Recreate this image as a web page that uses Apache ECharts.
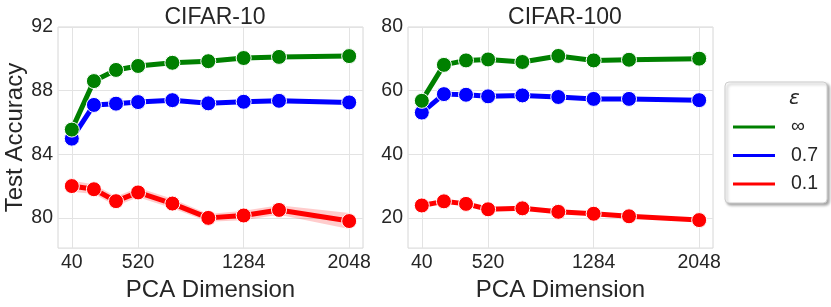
<!DOCTYPE html>
<html><head><meta charset="utf-8">
<script src="https://cdn.jsdelivr.net/npm/echarts@6/dist/echarts.min.js"></script>
<style>html,body{margin:0;padding:0;background:#fff}#c{width:831px;height:307px}</style>
</head><body><div id="c"></div>
<script>
const dims = [40, 200, 360, 520, 768, 1028, 1284, 1540, 2048];
const xTicks = [40, 520, 1284, 2048];
const yTicks10 = [80, 84, 88, 92];
const yTicks100 = [20, 40, 60, 80];
const seriesNames = ['∞', '0.7', '0.1'];
const colors = ['#008000', '#0000ff', '#ff0000'];
const bandColors = ['rgba(0,128,0,0.2)', 'rgba(0,0,255,0.2)', 'rgba(255,0,0,0.2)'];
// CIFAR-10
const c10_inf = [85.55, 88.6, 89.3, 89.55, 89.75, 89.85, 90.05, 90.12, 90.17];
const c10_07  = [84.98, 87.1, 87.18, 87.28, 87.4, 87.2, 87.3, 87.36, 87.26];
const c10_01  = [82.0, 81.8, 81.05, 81.6, 80.9, 80.0, 80.15, 80.5, 79.8];
const c10_inf_err = [0.05, 0.05, 0.05, 0.05, 0.05, 0.05, 0.05, 0.05, 0.05];
const c10_07_err  = [0.08, 0.08, 0.08, 0.08, 0.1, 0.08, 0.1, 0.15, 0.12];
const c10_01_err  = [0.35, 0.3, 0.3, 0.3, 0.3, 0.25, 0.3, 0.3, 0.5];
// CIFAR-100
const c100_inf = [56.8, 68.1, 69.5, 69.8, 69.0, 70.9, 69.5, 69.7, 70.05];
const c100_07  = [53.1, 58.9, 58.7, 58.2, 58.5, 58.0, 57.4, 57.4, 57.0];
const c100_01  = [23.9, 25.2, 24.4, 22.7, 23.0, 21.9, 21.3, 20.5, 19.3];
const c100_inf_err = [0.2, 0.2, 0.2, 0.2, 0.2, 0.2, 0.2, 0.2, 0.2];
const c100_07_err  = [0.3, 0.3, 0.3, 0.3, 0.3, 0.3, 0.3, 0.3, 0.3];
const c100_01_err  = [0.5, 0.5, 0.5, 0.5, 0.5, 0.5, 0.5, 0.5, 0.5];

const FONT = 'Liberation Sans';
const TXT = '#262626';

function xAxis(gi) {
  return {
    type: 'value', gridIndex: gi, min: -60, max: 2148,
    name: 'PCA Dimension', nameLocation: 'middle', nameGap: 27,
    nameTextStyle: {fontFamily: FONT, fontSize: 24, color: TXT},
    axisLine: {show: false}, axisTick: {show: false, customValues: xTicks},
    axisLabel: {customValues: xTicks, formatter: v => String(v), fontFamily: FONT, fontSize: 19.5, color: TXT, margin: 5},
    splitLine: {show: true, lineStyle: {color: '#e3e3e3', width: 1}}
  };
}
function yAxis(gi, min, max, ticks, name) {
  return {
    type: 'value', gridIndex: gi, min: min, max: max,
    name: name, nameLocation: 'middle', nameGap: 31,
    nameTextStyle: {fontFamily: FONT, fontSize: 24, color: TXT},
    axisLine: {show: false}, axisTick: {show: false, customValues: ticks},
    axisLabel: {customValues: ticks, formatter: v => String(v), fontFamily: FONT, fontSize: 19.5, color: TXT, margin: 5},
    splitLine: {show: true, lineStyle: {color: '#e3e3e3', width: 1}}
  };
}
function band(gi, vals, err, k) {
  const data = dims.map((d, i) => [d, vals[i] - err[i], vals[i] + err[i]]);
  return {
    type: 'custom', xAxisIndex: gi, yAxisIndex: gi, silent: true, z: 1, clip: true,
    encode: {x: 0, y: [1, 2]},
    data: data,
    renderItem: function (params, api) {
      if (params.dataIndex !== 0) return null;
      const up = data.map(p => api.coord([p[0], p[2]]));
      const lo = data.map(p => api.coord([p[0], p[1]])).reverse();
      return {type: 'polygon', shape: {points: up.concat(lo)}, style: {fill: bandColors[k]}};
    }
  };
}
function main(gi, vals, k) {
  return {type: 'line', name: seriesNames[k], xAxisIndex: gi, yAxisIndex: gi,
    data: dims.map((d, i) => [d, vals[i]]), symbol: 'circle', symbolSize: 15,
    itemStyle: {color: colors[k], borderColor: '#fff', borderWidth: 1},
    lineStyle: {color: colors[k], width: 5}, z: 3};
}
const s = [];
[[0, c10_inf, c10_inf_err, 0], [0, c10_07, c10_07_err, 1], [0, c10_01, c10_01_err, 2],
 [1, c100_inf, c100_inf_err, 0], [1, c100_07, c100_07_err, 1], [1, c100_01, c100_01_err, 2]]
 .forEach(([gi, v, e, k]) => s.push(band(gi, v, e, k)));
[[0, c10_01, 2], [0, c10_07, 1], [0, c10_inf, 0], [1, c100_01, 2], [1, c100_07, 1], [1, c100_inf, 0]]
 .forEach(([gi, v, k]) => s.push(main(gi, v, k)));

const chart = echarts.init(document.getElementById('c'), null, {renderer: 'canvas'});
chart.setOption({
  animation: false,
  title: [
    {text: 'CIFAR-10', left: 210, top: 1, textAlign: 'center', textStyle: {fontFamily: FONT, fontSize: 23, fontWeight: 'normal', color: TXT}},
    {text: 'CIFAR-100', left: 560, top: 1, textAlign: 'center', textStyle: {fontFamily: FONT, fontSize: 23, fontWeight: 'normal', color: TXT}}
  ],
  grid: [
    {left: 58, top: 27, width: 305, height: 225, show: true, borderColor: '#d6d6d6', borderWidth: 1, backgroundColor: '#fff'},
    {left: 408, top: 27, width: 305, height: 225, show: true, borderColor: '#d6d6d6', borderWidth: 1, backgroundColor: '#fff'}
  ],
  xAxis: [xAxis(0), xAxis(1)],
  yAxis: [yAxis(0, 78.1, 92, yTicks10, 'Test Accuracy'), yAxis(1, 10.5, 80, yTicks100, '')],
  legend: {
    data: seriesNames, orient: 'vertical', left: 725, top: 82,
    padding: [35, 9, 9, 6], itemGap: 8.5,
    icon: 'rect', itemWidth: 44, itemHeight: 5,
    textStyle: {fontFamily: FONT, fontSize: 19.5, lineHeight: 20, color: TXT, padding: [0, 0, 0, 10]},
    backgroundColor: '#fff', borderColor: '#cccccc', borderWidth: 1, borderRadius: 4,
    shadowBlur: 3, shadowColor: 'rgba(0,0,0,0.35)', shadowOffsetX: 2, shadowOffsetY: 2,
    selectedMode: false
  },
  graphic: [
    {type: 'text', left: 789, top: 89, z: 100, style: {text: 'ε', font: 'italic 20px "DejaVu Sans"', fill: TXT}}
  ],
  series: s
});
</script></body></html>
